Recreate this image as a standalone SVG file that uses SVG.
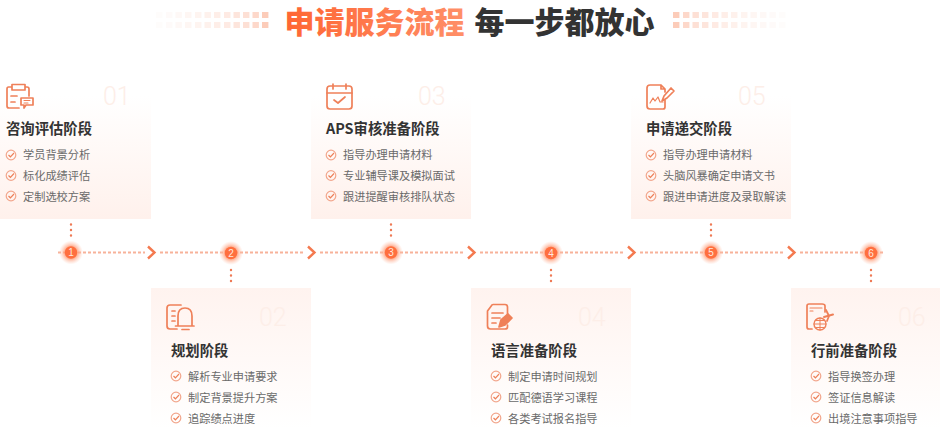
<svg xmlns="http://www.w3.org/2000/svg" width="940" height="429" viewBox="0 0 940 429">
<style>
text{font-family:"Noto Sans CJK SC","Liberation Sans",sans-serif}
.h{font-size:14.35px;font-weight:700;fill:#333}
.i{font-size:11.2px;fill:#6a6a6a}
.n{font-family:Roboto,"Liberation Sans",sans-serif;font-size:25px;font-weight:300;fill:#fdeee8}
.t{font-size:30px;font-weight:900}
.s{fill:none;stroke:#ef8059;stroke-width:1.7;stroke-linecap:round;stroke-linejoin:round}
.d{fill:none;stroke:#f7b29a;stroke-width:2;stroke-dasharray:3 2}
.v{fill:none;stroke:#ee7a55;stroke-width:2.4;stroke-dasharray:0 5.5;stroke-linecap:round}
.a{fill:none;stroke:#f4794f;stroke-width:2.4}
.l{font-size:10px;fill:#ffe9df;text-anchor:middle;font-family:"Liberation Sans",sans-serif}
</style>
<defs>
<linearGradient id="gt" x1="0" y1="0" x2="0" y2="1"><stop offset="0" stop-color="#fff" /><stop offset="1" stop-color="#fff1ec" /></linearGradient>
<linearGradient id="gb" x1="0" y1="0" x2="0" y2="1"><stop offset="0" stop-color="#fff3ef" /><stop offset="1" stop-color="#fff" /></linearGradient>
<linearGradient id="gh" x1="0" y1="0" x2="1" y2="0"><stop offset="0" stop-color="#ff6633" /><stop offset="1" stop-color="#ff8f68" /></linearGradient>
<radialGradient id="glow"><stop offset="0.5" stop-color="#ff9a75" stop-opacity=".85" /><stop offset="0.75" stop-color="#ffb59a" stop-opacity=".45" /><stop offset="1" stop-color="#ffc5b0" stop-opacity="0" /></radialGradient>
<g id="c"><circle r="4.8" fill="none" stroke="#f2a68c" stroke-width="1.2" /><path d="M-2.5 0L-.6 1.8L3 -2" fill="none" stroke="#ee8059" stroke-width="1.2" /></g>
<g id="dot"><circle r="12" fill="url(#glow)" /><circle r="6.200" fill="#ff6f3f" /></g>
<g id="chev"><path class="a" d="M-3.5 -6L3 0L-3.5 6" /></g>
<g id="sq"><rect width="6.4" height="6" /><rect y="10" width="6.4" height="6" /></g>
</defs>

<g id="title">
<g id="squares-left" fill="#fb9b76">
<use href="#sq" x="156" y="12" opacity=".02" /><use href="#sq" x="166" y="12" opacity=".04" /><use href="#sq" x="175.500" y="12" opacity=".06" /><use href="#sq" x="185" y="12" opacity=".08" /><use href="#sq" x="195" y="12" opacity=".1" /><use href="#sq" x="204.500" y="12" opacity=".13" /><use href="#sq" x="214" y="12" opacity=".16" /><use href="#sq" x="224" y="12" opacity=".2" /><use href="#sq" x="233.500" y="12" opacity=".25" /><use href="#sq" x="243" y="12" opacity=".3" /><use href="#sq" x="252.500" y="12" opacity=".38" /><use href="#sq" x="262" y="12" opacity=".5" />
</g>
<g id="squares-right" fill="#fb9b76">
<use href="#sq" x="673" y="12" opacity=".5" /><use href="#sq" x="683" y="12" opacity=".38" /><use href="#sq" x="692.500" y="12" opacity=".3" /><use href="#sq" x="702" y="12" opacity=".25" /><use href="#sq" x="712" y="12" opacity=".2" /><use href="#sq" x="721.500" y="12" opacity=".16" /><use href="#sq" x="731" y="12" opacity=".13" /><use href="#sq" x="741" y="12" opacity=".1" /><use href="#sq" x="750.500" y="12" opacity=".08" /><use href="#sq" x="760" y="12" opacity=".06" /><use href="#sq" x="769.500" y="12" opacity=".04" /><use href="#sq" x="779" y="12" opacity=".02" />
</g>
<text class="t" x="284.500" y="33" fill="url(#gh)">申请服务流程</text>
<text class="t" x="474.500" y="33" fill="#333">每一步都放心</text>
</g>

<g id="card-bgs">
<rect x="0" y="96" width="151" height="123" fill="url(#gt)" />
<rect x="311" y="96" width="160" height="123" fill="url(#gt)" />
<rect x="631" y="96" width="160" height="123" fill="url(#gt)" />
<rect x="151" y="288" width="160" height="141" fill="url(#gb)" />
<rect x="471" y="288" width="160" height="141" fill="url(#gb)" />
<rect x="791" y="288" width="149" height="141" fill="url(#gb)" />
</g>

<g id="connectors">
<path class="d" d="M58 252.500H145M160 252.500H304M320 252.500H464M480 252.500H624M640 252.500H784M800 252.500H884" />
<path class="v" d="M71 224.500V238M391 224.500V238M711 224.500V238M231 270V283M551 270V283M871 270V283" />
<use href="#chev" x="151.500" y="252.500" /><use href="#chev" x="311.500" y="252.500" /><use href="#chev" x="471.500" y="252.500" /><use href="#chev" x="631.500" y="252.500" /><use href="#chev" x="791.500" y="252.500" />
</g>

<g id="node-1">
<g class="s"><path d="M12 87H8.500Q7 87 7 89V106Q7 108 9 108H19M25 87H27Q29 87 29 89V96M12 84.500H25V90H12Z" /><path d="M11 96H17M11 102H15" /><path d="M21 98H33V105H26L24 108V105H21Z" /><path d="M24 100.500H30M24 103H28" stroke-width="1.1" /></g>
<text class="n" x="103" y="105">01</text>
<text class="h" x="6" y="134">咨询评估阶段</text>
<use href="#c" x="11" y="155" /><text class="i" x="23" y="159">学员背景分析</text>
<use href="#c" x="11" y="175.500" /><text class="i" x="23" y="180">标化成绩评估</text>
<use href="#c" x="11" y="196" /><text class="i" x="23" y="200.500">定制选校方案</text>
</g>

<g id="node-2">
<g class="s"><path d="M181 305H170Q167 305 167 308V326Q167 329 170 329H177" /><path d="M172 311H175M172 316H175M172 321H175" /><path d="M178 326V316Q178 308 185 308Q192 308 192 316V326M175.500 326H194M182 329.500H189" /></g>
<text class="n" x="259" y="326">02</text>
<text class="h" x="171" y="356">规划阶段</text>
<use href="#c" x="176" y="376" /><text class="i" x="188" y="380.500">解析专业申请要求</text>
<use href="#c" x="176" y="397" /><text class="i" x="188" y="401.500">制定背景提升方案</text>
<use href="#c" x="176" y="418" /><text class="i" x="188" y="422.500">追踪绩点进度</text>
</g>

<g id="node-3">
<g class="s"><rect x="327" y="86" width="25" height="23" rx="3" /><path d="M327 93H352M333 84V89M346 84V89M334 100L338 103L345 97" /></g>
<text class="n" x="418" y="105">03</text>
<text class="h" x="326" y="134">APS审核准备阶段</text>
<use href="#c" x="331" y="155" /><text class="i" x="343" y="159">指导办理申请材料</text>
<use href="#c" x="331" y="175.500" /><text class="i" x="343" y="180">专业辅导课及模拟面试</text>
<use href="#c" x="331" y="196" /><text class="i" x="343" y="200.500">跟进提醒审核排队状态</text>
</g>

<g id="node-4">
<g class="s"><path d="M493 304.500H505Q507.500 304.500 507.500 307V315M492 305L487.500 311V326Q487.500 329 490.500 329H505Q507.500 329 507.500 327V325" /><path d="M492 313H503M492 318H500M492 323H496" /><path d="M499 327L501 320L508 314L512 318L505 325Z" fill="#ef8059" /></g>
<text class="n" x="578" y="326">04</text>
<text class="h" x="491" y="356">语言准备阶段</text>
<use href="#c" x="496" y="376" /><text class="i" x="508" y="380.500">制定申请时间规划</text>
<use href="#c" x="496" y="397" /><text class="i" x="508" y="401.500">匹配德语学习课程</text>
<use href="#c" x="496" y="418" /><text class="i" x="508" y="422.500">各类考试报名指导</text>
</g>

<g id="node-5">
<g class="s"><path d="M661 85H650Q647 85 647 88V106Q647 109 650 109H663Q665 109 665 107V100M661 85L665 89V92M661 85V89H665" /><path d="M650 103L653 98L655 101L658 97L660 102H663" stroke-width="1.2" /><path d="M662 101L664 96L671 88L674 91L667 98Z" /></g>
<text class="n" x="738" y="105">05</text>
<text class="h" x="646" y="134">申请递交阶段</text>
<use href="#c" x="651" y="155" /><text class="i" x="663" y="159">指导办理申请材料</text>
<use href="#c" x="651" y="175.500" /><text class="i" x="663" y="180">头脑风暴确定申请文书</text>
<use href="#c" x="651" y="196" /><text class="i" x="663" y="200.500">跟进申请进度及录取解读</text>
</g>

<g id="node-6">
<g class="s"><path d="M812 329H809Q807 329 807 327V306Q807 304 809 304H822Q825 304 825 306V312" /><path d="M810 308H822M810 311H813" stroke-width="1.1" /><circle cx="820" cy="324" r="6" stroke-width="1.4" /><path d="M814 324H826M820 318V330M816 320.500H824M816 327.500H824" stroke-width="1" /><path d="M824 317L833 314.500" stroke-width="2" /><path d="M826 310L829 316L827 321" stroke-width="1.8" /></g>
<text class="n" x="898" y="326">06</text>
<text class="h" x="811" y="356">行前准备阶段</text>
<use href="#c" x="816" y="376" /><text class="i" x="828" y="380.500">指导换签办理</text>
<use href="#c" x="816" y="397" /><text class="i" x="828" y="401.500">签证信息解读</text>
<use href="#c" x="816" y="418" /><text class="i" x="828" y="422.500">出境注意事项指导</text>
</g>

<g id="steps">
<g id="step-1"><use href="#dot" x="71" y="252.500" /><text class="l" x="71" y="256">1</text></g>
<g id="step-2"><use href="#dot" x="231" y="253" /><text class="l" x="231" y="256.500">2</text></g>
<g id="step-3"><use href="#dot" x="391" y="252.500" /><text class="l" x="391" y="256">3</text></g>
<g id="step-4"><use href="#dot" x="551" y="253" /><text class="l" x="551" y="256.500">4</text></g>
<g id="step-5"><use href="#dot" x="711" y="252.500" /><text class="l" x="711" y="256">5</text></g>
<g id="step-6"><use href="#dot" x="871" y="253" /><text class="l" x="871" y="256.500">6</text></g>
</g>
</svg>
